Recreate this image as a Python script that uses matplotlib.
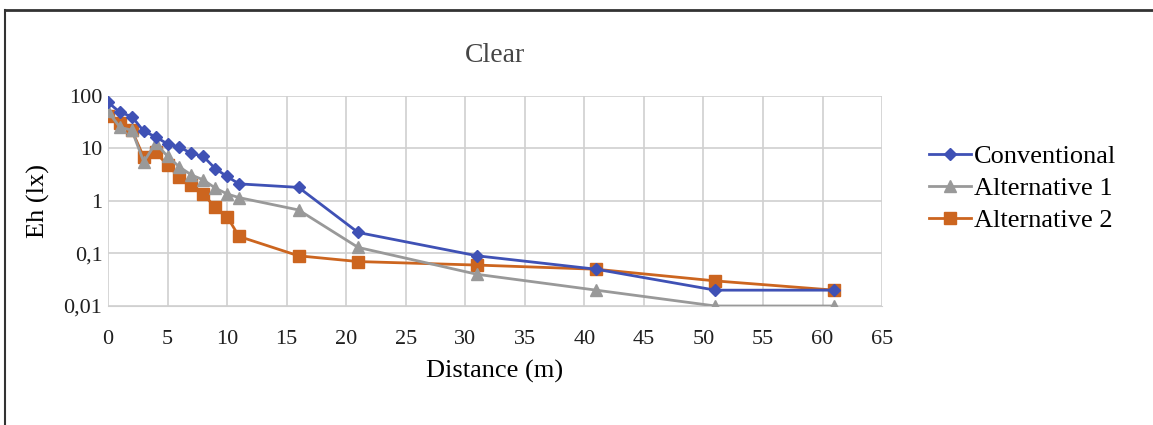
import matplotlib.pyplot as plt
from matplotlib.lines import Line2D
from matplotlib.ticker import FixedLocator, FixedFormatter, NullLocator

plt.rcParams['font.family'] = ['Liberation Serif', 'DejaVu Serif']

distance = [0, 1, 2, 3, 4, 5, 6, 7, 8, 9, 10, 11, 16, 21, 31, 41, 51, 61]
conventional = [75, 48, 40, 21, 16.5, 12, 10.5, 8, 7, 4.1, 2.9, 2.1, 1.8, 0.25, 0.09, 0.05, 0.02, 0.02]
alternative1 = [50, 25, 22, 5.5, 12.5, 7, 4.4, 3.1, 2.5, 1.75, 1.35, 1.15, 0.67, 0.13, 0.04, 0.02, 0.01, 0.01]
alternative2 = [41, 30, 22, 6.7, 8.3, 4.8, 2.8, 2.0, 1.35, 0.75, 0.5, 0.21, 0.09, 0.07, 0.06, 0.05, 0.03, 0.02]

y_ticks = [0.01, 0.1, 1, 10, 100]
y_labels = ['0,01', '0,1', '1', '10', '100']
x_ticks = list(range(0, 66, 5))

fig = plt.figure(figsize=(11.53, 4.25), dpi=100)
ax = fig.add_axes([0.0937, 0.28, 0.6713, 0.495])

ax.plot(distance, conventional, color='#3F51B5', marker='D', markersize=6, lw=2, label='Conventional', zorder=5)
ax.plot(distance, alternative1, color='#999999', marker='^', markersize=8, lw=2, label='Alternative 1', zorder=4)
ax.plot(distance, alternative2, color='#CC651F', marker='s', markersize=8, lw=2, label='Alternative 2', zorder=3)

ax.set_yscale('log')
ax.set_ylim(0.01, 100)
ax.set_xlim(0, 65)
ax.yaxis.set_major_locator(FixedLocator(y_ticks))
ax.yaxis.set_major_formatter(FixedFormatter(y_labels))
ax.yaxis.set_minor_locator(NullLocator())
ax.set_xticks(x_ticks)
ax.grid(True, color='#D0D0D0', lw=1.2)
ax.set_axisbelow(True)
for s in ['top', 'right', 'left']:
    ax.spines[s].set_visible(False)
ax.spines['bottom'].set_color('#D0D0D0')
ax.tick_params(length=0, labelsize=16, colors='#202020')
ax.tick_params(axis='x', pad=17)
ax.tick_params(axis='y', pad=4)

ax.set_title('Clear', fontsize=20, color='#454545', pad=24)
ax.set_xlabel('Distance (m)', fontsize=19, labelpad=8)
ax.set_ylabel('Eh (lx)', fontsize=19, labelpad=10)

ax.legend(loc='center left', bbox_to_anchor=(1.03, 0.56), frameon=False, fontsize=19,
          handlelength=1.6, handletextpad=0.1, labelspacing=0.33)

# outer border lines (top and left)
fig.add_artist(Line2D([0.004, 1.0], [0.977, 0.977], color='#333333', lw=2, transform=fig.transFigure))
fig.add_artist(Line2D([0.004, 0.004], [0.0, 0.977], color='#333333', lw=1.5, transform=fig.transFigure))

fig.savefig('out.png', dpi=100)
